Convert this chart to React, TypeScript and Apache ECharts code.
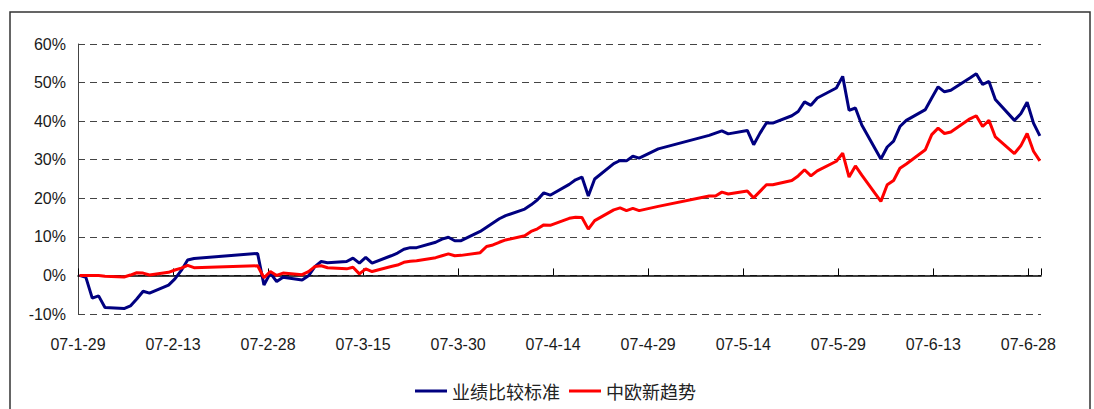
import React, { useEffect, useRef } from "react";
import * as echarts from "echarts";

const dates = [
  "2007-01-29", "2007-01-30", "2007-01-31", "2007-02-01", "2007-02-02",
  "2007-02-05", "2007-02-06", "2007-02-07", "2007-02-08", "2007-02-09",
  "2007-02-12", "2007-02-13", "2007-02-14", "2007-02-15", "2007-02-16",
  "2007-02-26", "2007-02-27", "2007-02-28", "2007-03-01", "2007-03-02",
  "2007-03-05", "2007-03-06", "2007-03-07", "2007-03-08", "2007-03-09",
  "2007-03-12", "2007-03-13", "2007-03-14", "2007-03-15", "2007-03-16",
  "2007-03-19", "2007-03-20", "2007-03-21", "2007-03-22", "2007-03-23",
  "2007-03-26", "2007-03-27", "2007-03-28", "2007-03-29", "2007-03-30",
  "2007-04-02", "2007-04-03", "2007-04-04", "2007-04-05", "2007-04-06",
  "2007-04-09", "2007-04-10", "2007-04-11", "2007-04-12", "2007-04-13",
  "2007-04-16", "2007-04-17", "2007-04-18", "2007-04-19", "2007-04-20",
  "2007-04-23", "2007-04-24", "2007-04-25", "2007-04-26", "2007-04-27",
  "2007-04-30",
  "2007-05-08", "2007-05-09", "2007-05-10", "2007-05-11",
  "2007-05-14", "2007-05-15", "2007-05-16", "2007-05-17", "2007-05-18",
  "2007-05-21", "2007-05-22", "2007-05-23", "2007-05-24", "2007-05-25",
  "2007-05-28", "2007-05-29", "2007-05-30", "2007-05-31", "2007-06-01",
  "2007-06-04", "2007-06-05", "2007-06-06", "2007-06-07", "2007-06-08",
  "2007-06-11", "2007-06-12", "2007-06-13", "2007-06-14", "2007-06-15",
  "2007-06-18", "2007-06-19", "2007-06-20", "2007-06-21", "2007-06-22",
  "2007-06-25", "2007-06-26", "2007-06-27", "2007-06-28", "2007-06-29",
];

// 业绩比较标准 (%)
const benchmark = [
  0, -0.5, -5.9, -5.3, -8.3,
  -8.6, -7.9, -6.1, -4.1, -4.6,
  -2.5, -0.9, 1.3, 4.0, 4.4,
  5.7, -2.5, 0.6, -1.6, -0.5,
  -1.2, -0.1, 2.3, 3.6, 3.3,
  3.6, 4.5, 3.2, 4.7, 3.2,
  5.1, 5.8, 6.8, 7.2, 7.2,
  8.6, 9.4, 9.9, 9.0, 9.0,
  11.4, 12.5, 13.6, 14.7, 15.5,
  17.2, 18.3, 19.6, 21.4, 20.8,
  23.6, 24.8, 25.5, 20.6, 25.0,
  29.0, 29.8, 29.7, 30.9, 30.4,
  32.8,
  36.3, 36.9, 37.5, 36.7,
  37.6, 33.9, 36.9, 39.5, 39.5,
  41.4, 42.5, 45.0, 44.1, 46.0,
  48.6, 51.6, 42.8, 43.4, 39.0,
  30.2, 33.3, 34.8, 38.6, 40.2,
  43.0, 46.0, 48.9, 47.6, 48.0,
  51.2, 52.3, 49.5, 50.3, 45.6,
  40.2, 41.9, 44.9, 39.5, 36.2,
];

// 中欧新趋势 (%)
const fund = [
  0, 0, 0, 0, -0.2,
  -0.4, 0.1, 0.7, 0.6, 0.1,
  0.8, 1.4, 1.9, 2.6, 2.0,
  2.5, -0.6, 1.0, 0, 0.6,
  0.2, 1.0, 2.3, 2.5, 2.0,
  1.7, 2.1, 0.4, 1.7, 1.0,
  2.3, 2.7, 3.4, 3.7, 3.8,
  4.6, 5.1, 5.6, 5.1, 5.2,
  5.9, 7.5, 7.9, 8.6, 9.2,
  10.3, 11.4, 12.1, 13.1, 13.0,
  14.8, 15.1, 15.0, 12.0, 14.2,
  17.0, 17.5, 16.8, 17.4, 16.8,
  17.9,
  20.6, 20.6, 21.6, 21.1,
  21.9, 20.1, 21.8, 23.5, 23.5,
  24.6, 25.8, 27.4, 25.8, 27.1,
  29.6, 31.7, 25.5, 28.4, 26.0,
  19.2, 23.5, 24.6, 27.8, 28.9,
  32.6, 36.5, 38.2, 36.8, 37.2,
  40.6, 41.4, 38.6, 40.2, 35.9,
  31.6, 33.6, 36.8, 32.2, 29.7,
];

const seriesNames = ["业绩比较标准", "中欧新趋势"];
const seriesColors = ["#000080", "#FF0000"];
const yTicks = { min: -10, max: 60, interval: 10 };
const xTicks = { min: 0, max: 152, interval: 15 };

const BASE = Date.UTC(2007, 0, 29);
const DAY = 86400000;
const dayIndex = dates.map((d) => {
  const [y, m, dd] = d.split("-").map(Number);
  return (Date.UTC(y, m - 1, dd) - BASE) / DAY;
});

function fmtDay(v: number) {
  const dt = new Date(BASE + Math.round(v) * DAY);
  const yy = String(dt.getUTCFullYear()).slice(2);
  return `${yy}-${dt.getUTCMonth() + 1}-${dt.getUTCDate()}`;
}

const latin = "'Liberation Sans', Arial, sans-serif";
const cjk = "'Noto Sans CJK SC', sans-serif";

export default function App() {
  const ref = useRef<HTMLDivElement>(null);
  useEffect(() => {
    if (!ref.current) return;
    const chart = echarts.init(ref.current, null, { renderer: "svg" });
    chart.setOption({
      animation: false,
      backgroundColor: "#ffffff",
      grid: { left: 78, right: 53, top: 44, bottom: 95 },
      graphic: [
        {
          type: "rect",
          shape: { x: 10, y: 12, width: 1080, height: 420 },
          style: { fill: "none", stroke: "#333", lineWidth: 1.5 },
          silent: true,
        },
      ],
      legend: {
        left: 415,
        top: 380,
        icon: "rect",
        itemWidth: 32,
        itemHeight: 3,
        itemGap: 9,
        padding: 0,
        data: seriesNames,
        textStyle: { fontFamily: cjk, fontSize: 18, lineHeight: 22, color: "#222" },
      },
      xAxis: [
        {
          type: "value",
          min: -0.24,
          max: 151.18,
          show: false,
          axisLine: { onZero: false },
          splitLine: { show: false },
        },
        {
          type: "value",
          min: xTicks.min,
          max: xTicks.max,
          interval: xTicks.interval,
          position: "bottom",
          axisLine: { show: false, onZero: false },
          axisTick: { show: false },
          splitLine: { show: false },
          axisLabel: {
            margin: 22,
            fontFamily: latin,
            fontSize: 16,
            color: "#1a1a1a",
            showMaxLabel: false,
            formatter: (v: number) => fmtDay(v),
          },
        },
        {
          type: "value",
          min: xTicks.min,
          max: xTicks.max,
          interval: xTicks.interval,
          position: "bottom",
          axisLine: { show: true, onZero: true, lineStyle: { color: "#000", width: 1.5 } },
          axisTick: { show: true, inside: true, length: 7, lineStyle: { color: "#000", width: 1 } },
          axisLabel: { show: false },
          splitLine: { show: false },
        },
      ],
      yAxis: {
        type: "value",
        min: yTicks.min,
        max: yTicks.max,
        interval: yTicks.interval,
        axisLine: { show: true, onZero: false, lineStyle: { color: "#444", width: 1 } },
        axisTick: { show: false },
        axisLabel: {
          margin: 12,
          fontFamily: latin,
          fontSize: 16,
          color: "#1a1a1a",
          formatter: "{value}%",
        },
        splitLine: {
          show: true,
          lineStyle: { color: "#444", width: 1, type: [7, 5] },
        },
      },
      series: [benchmark, fund].map((vals, si) => ({
        name: seriesNames[si],
        type: "line",
        xAxisIndex: 0,
        data: dayIndex.map((d, i) => [d, vals[i]]),
        showSymbol: false,
        symbol: "none",
        color: seriesColors[si],
        lineStyle: { color: seriesColors[si], width: 3 },
        z: 3 + si,
      })),
    });
    return () => chart.dispose();
  }, []);
  return (
    <div
      ref={ref}
      style={{ position: "absolute", left: 0, top: 0, width: 1094, height: 409 }}
    />
  );
}
